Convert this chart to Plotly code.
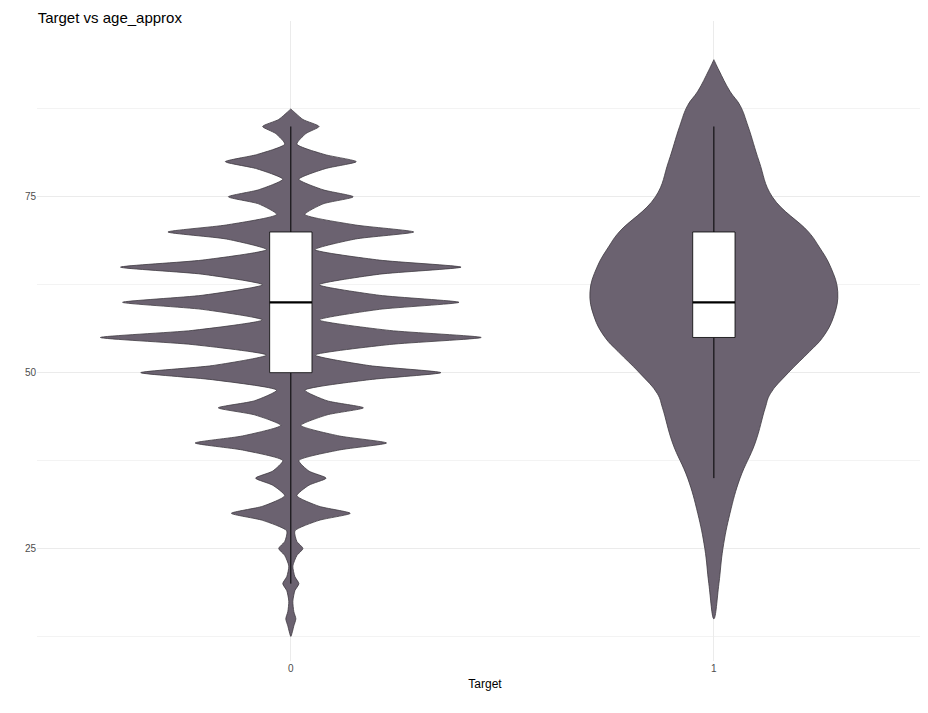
import plotly.graph_objects as go

# violin outlines: age vs relative half width
age0 = [12.5, 14, 15, 16, 17.5, 19, 20, 21, 22.5, 24, 25, 26, 27.5, 29, 30, 31, 32.5, 34, 35, 36,
        37.5, 39, 40, 41, 42.5, 44, 45, 46, 47.5, 49, 50, 51, 52.5, 54, 55, 56, 57.5, 59, 60, 61,
        62.5, 64, 65, 66, 67.5, 69, 70, 71, 72.5, 74, 75, 76, 77.5, 79, 80, 81, 82.5, 84, 85, 86, 87.5]
dens0 = [0, 3, 5, 3, 2, 4, 8, 4, 2, 6, 12, 6, 4, 28, 59, 28, 6, 18, 35, 18,
         8, 48, 95, 48, 10, 36, 72, 36, 14, 78, 149, 78, 24, 98, 189, 98, 28, 88, 167, 88,
         28, 88, 169, 88, 24, 64, 122, 64, 14, 32, 62, 32, 8, 34, 65, 34, 6, 15, 28, 12, 0]
age1 = [15, 20, 25, 30, 35, 40, 45, 47, 50, 53, 55, 58, 61.5, 65, 68, 70, 75, 80, 85, 88, 90, 93, 94.5]
dens1 = [0, 5, 9, 16, 26, 41, 51, 56, 74, 95, 108, 119, 123, 116, 104, 94, 58, 45, 34, 26, 16, 5, 0]

groups = [0, 1]
q1 = [50, 55]
median = [60, 60]
q3 = [70, 70]
lower = [20, 35]
upper = [85, 85]

VIOLIN = "#6b6270"
max_half = 0.45
box_half = 0.05
peak = max(max(dens0), max(dens1))

fig = go.Figure()
for g, ages, dens, sm in [(0, age0, dens0, 0.6), (1, age1, dens1, 1.2)]:
    half = [d / peak * max_half for d in dens]
    xs = [g + h for h in half] + [g - h for h in reversed(half)]
    ys = ages + list(reversed(ages))
    fig.add_trace(go.Scatter(x=xs, y=ys, mode="lines", fill="toself", fillcolor=VIOLIN,
                             line=dict(color="#3d3840", width=0.8, shape="spline", smoothing=sm),
                             hoverinfo="skip", showlegend=False))

# boxplot drawn as scatter so it sits above the filled violins
for i, g in enumerate(groups):
    fig.add_trace(go.Scatter(x=[g, g, None, g, g], y=[lower[i], q1[i], None, q3[i], upper[i]],
                             mode="lines", line=dict(color="black", width=1),
                             hoverinfo="skip", showlegend=False))
    fig.add_trace(go.Scatter(x=[g - box_half, g + box_half, g + box_half, g - box_half, g - box_half],
                             y=[q1[i], q1[i], q3[i], q3[i], q1[i]], mode="lines", fill="toself",
                             fillcolor="white", line=dict(color="black", width=0.8),
                             hoverinfo="skip", showlegend=False))
    fig.add_trace(go.Scatter(x=[g - box_half, g + box_half], y=[median[i], median[i]], mode="lines",
                             line=dict(color="black", width=2.2), hoverinfo="skip", showlegend=False))

fig.update_layout(
    width=928, height=713, plot_bgcolor="white", paper_bgcolor="white",
    margin=dict(l=29, r=3, t=13, b=60),
    title=dict(text="Target vs age_approx", x=0.032, xanchor="left", y=0.993, yanchor="top",
               font=dict(family="Liberation Sans, Arial", size=15, color="black")),
    font=dict(family="Liberation Sans, Arial"),
)
fig.update_xaxes(range=[-0.6, 1.518], tickvals=groups, ticktext=["0", "1"], showgrid=True,
                 gridcolor="#ebebeb", zeroline=False, ticks="", tickfont=dict(size=10, color="#4d4d4d"),
                 title=dict(text="Target", font=dict(size=12, color="black"), standoff=6))
fig.update_yaxes(range=[9, 100], tickvals=[25, 50, 75], showgrid=True, gridcolor="#ebebeb",
                 zeroline=False, ticks="", tickfont=dict(size=10, color="#4d4d4d"),
                 minor=dict(tickvals=[12.5, 37.5, 62.5, 87.5], showgrid=True, gridcolor="#f3f3f3"))

fig.write_html("out.html")
